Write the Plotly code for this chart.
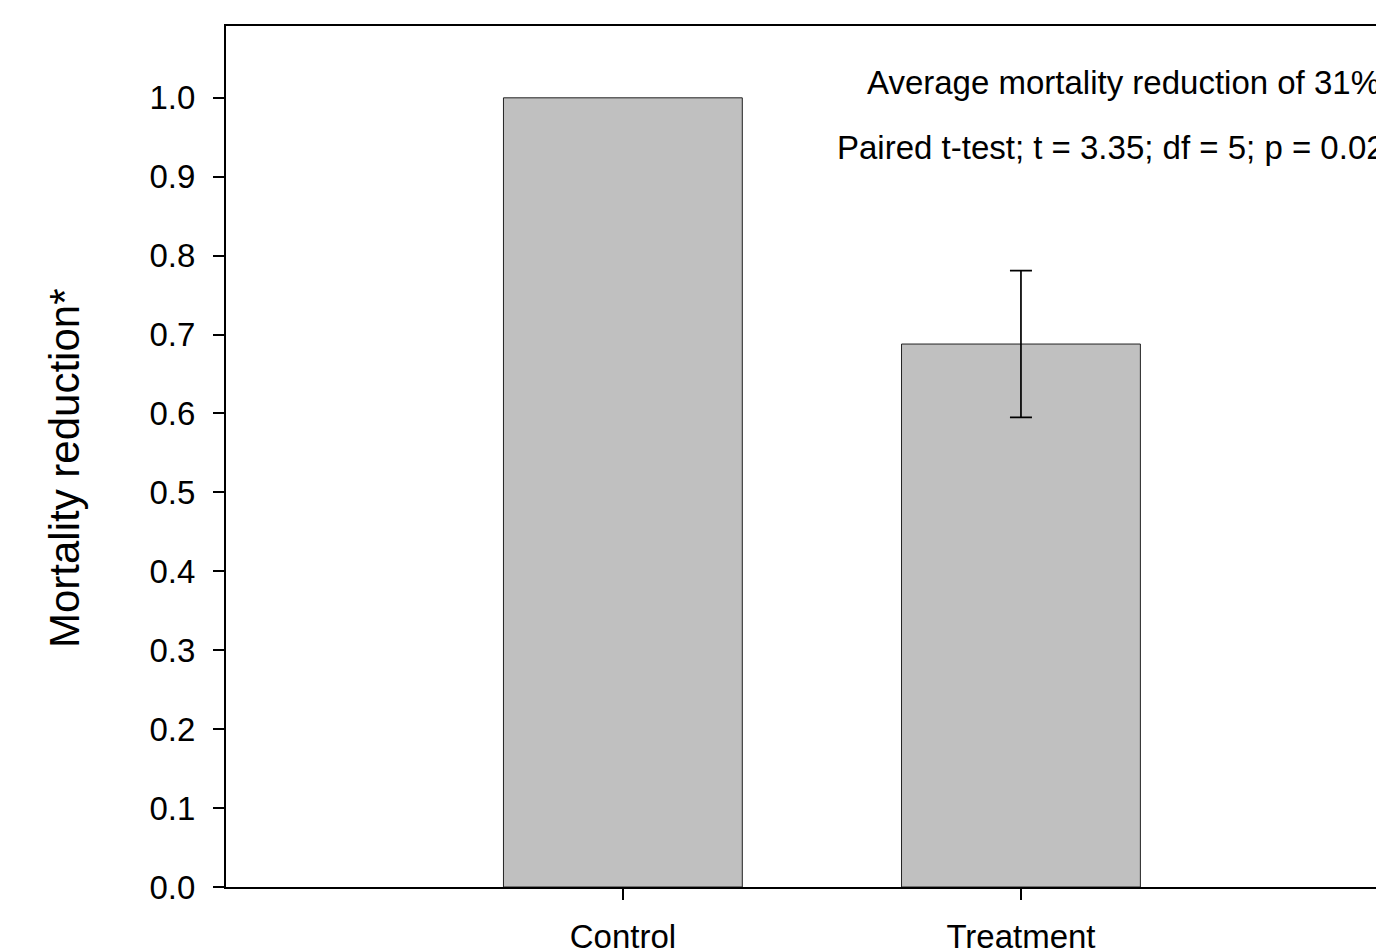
import plotly.graph_objects as go

categories = ["Control", "Treatment"]
values = [1.0, 0.688]
treat_error = 0.093
y_ticks = [0.0, 0.1, 0.2, 0.3, 0.4, 0.5, 0.6, 0.7, 0.8, 0.9, 1.0]
y_tick_labels = ["0.0", "0.1", "0.2", "0.3", "0.4", "0.5", "0.6", "0.7", "0.8", "0.9", "1.0"]
note_lines = ["Average mortality reduction of 31%",
              "Paired t-test; t = 3.35; df = 5; p = 0.020"]
y_title = "Mortality reduction*"

FONT = "Liberation Sans, Arial, sans-serif"

fig = go.Figure()
fig.add_trace(go.Bar(
    x=[0, 1], y=values, width=0.6,
    marker=dict(color="#C0C0C0", line=dict(color="#222222", width=1)),
    showlegend=False,
))
fig.add_trace(go.Scatter(
    x=[1], y=[values[1]], mode="markers",
    marker=dict(size=1, opacity=0),
    error_y=dict(type="data", array=[treat_error], visible=True, color="black",
                 thickness=1.7, width=11),
    showlegend=False, hoverinfo="skip",
))

fig.update_layout(
    width=1376, height=941,
    margin=dict(l=218, r=0, t=18, b=62),
    paper_bgcolor="white", plot_bgcolor="white",
    font=dict(family=FONT, color="black"),
    xaxis=dict(
        range=[-0.997, 1.912], tickmode="array", tickvals=[0, 1], ticktext=categories,
        showline=True, linecolor="black", linewidth=2, mirror=True,
        ticks="outside", ticklen=11, tickwidth=1.5, tickcolor="black",
        showgrid=False, zeroline=False, automargin=False,
        tickfont=dict(size=33, family=FONT), ticklabelstandoff=8,
    ),
    yaxis=dict(
        range=[0, 1.091], tickmode="array", tickvals=y_ticks, ticktext=y_tick_labels,
        showline=True, linecolor="black", linewidth=2,
        ticks="outside", ticklen=11, tickwidth=1.5, tickcolor="black",
        showgrid=False, zeroline=False, automargin=False,
        tickfont=dict(size=33, family=FONT), ticklabelstandoff=11,
    ),
)

fig.add_annotation(x=0, y=0.4855, xref="paper", yref="paper", text=y_title,
                   textangle=-90, showarrow=False, xanchor="center", yanchor="middle",
                   xshift=-161, font=dict(size=42, family=FONT))
fig.add_annotation(x=0.608, y=1.019, xref="x", yref="y", text=note_lines[0],
                   showarrow=False, xanchor="left", yanchor="middle",
                   font=dict(size=33, family=FONT))
fig.add_annotation(x=0.533, y=0.937, xref="x", yref="y", text=note_lines[1],
                   showarrow=False, xanchor="left", yanchor="middle",
                   font=dict(size=33, family=FONT))

fig.write_html("out.html")
